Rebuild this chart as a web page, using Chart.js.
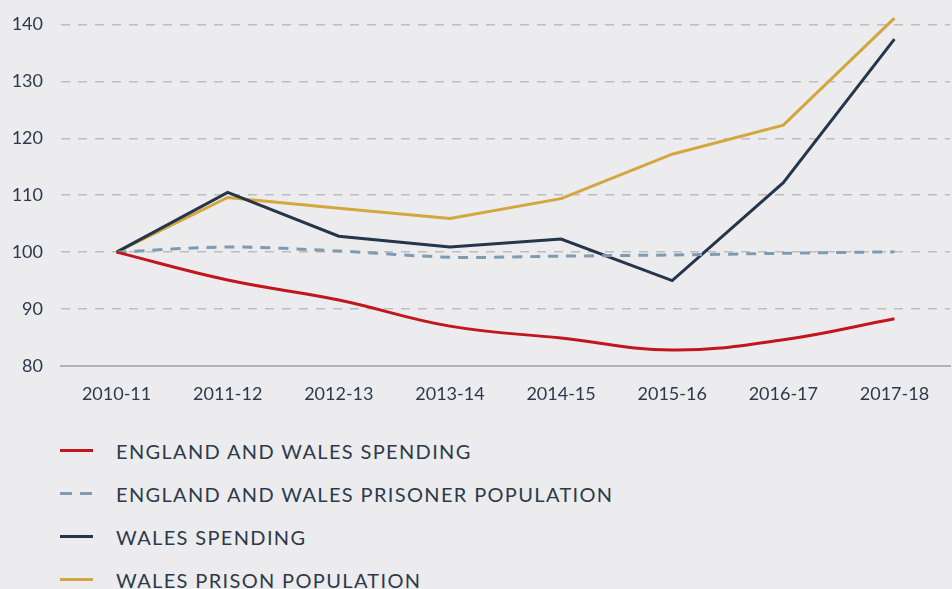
<!DOCTYPE html>
<html>
<head>
<meta charset="utf-8">
<script src="https://cdn.jsdelivr.net/npm/chart.js@4"></script>
<style>
  html, body { margin: 0; padding: 0; background: #ececee; overflow: hidden; }
  #wrap { position: relative; width: 952px; height: 589px; }
  #box { position: absolute; left: 0; top: 0; width: 952px; height: 414px; }
  #legend { position: absolute; left: 60px; top: 429px; font-family: Lato, sans-serif;
            font-size: 20px; letter-spacing: 1.35px; color: #2c3a4b; }
  .item { display: flex; align-items: center; height: 43px; }
  .swatch { width: 33px; height: 3px; margin-right: 23px; }
</style>
</head>
<body>
<div id="wrap">
  <div id="box"><canvas id="chart"></canvas></div>
  <div id="legend"></div>
</div>
<script>
const years = ['2010-11', '2011-12', '2012-13', '2013-14', '2014-15', '2015-16', '2016-17', '2017-18'];
const ewSpending = [100, 95.1, 91.6, 87.0, 84.9, 82.8, 84.6, 88.3];
const ewPrisoners = [100, 100.9, 100.2, 99.1, 99.3, 99.5, 99.8, 100.05];
const walesSpending = [100, 110.5, 102.8, 100.9, 102.3, 95.0, 112.2, 137.4];
const walesPrisoners = [100, 109.6, 107.7, 105.9, 109.4, 117.2, 122.3, 141.1];

const textColor = '#2c3a4b';

document.addEventListener('DOMContentLoaded', function () {
  const ctx = document.getElementById('chart').getContext('2d');
  const chart = new Chart(ctx, {
    type: 'line',
    data: {
      labels: years,
      datasets: [{
        label: 'ENGLAND AND WALES SPENDING',
        data: ewSpending,
        borderColor: '#c1171c',
        borderWidth: 3,
        tension: 0.4
      }, {
        label: 'ENGLAND AND WALES PRISONER POPULATION',
        data: ewPrisoners,
        borderColor: '#7f9bb1',
        borderWidth: 3,
        borderDash: [10, 8],
        tension: 0.3
      }, {
        label: 'WALES SPENDING',
        data: walesSpending,
        borderColor: '#25364a',
        borderWidth: 3,
        tension: 0
      }, {
        label: 'WALES PRISON POPULATION',
        data: walesPrisoners,
        borderColor: '#d4a63e',
        borderWidth: 3,
        tension: 0
      }]
    },
    options: {
      responsive: true,
      maintainAspectRatio: false,
      animation: false,
      layout: { padding: { top: 13, right: 2, left: 0, bottom: 0 } },
      elements: { point: { radius: 0, hoverRadius: 0 } },
      plugins: {
        legend: { display: false },
        tooltip: { enabled: false }
      },
      scales: {
        x: {
          offset: true,
          grid: { display: false, drawTicks: false },
          border: { display: true, color: '#b3b3b5', width: 2 },
          ticks: {
            color: textColor,
            padding: 17,
            maxRotation: 0,
            font: { family: 'Lato', size: 18 }
          },
          afterFit: function (scale) { scale.height = 48; }
        },
        y: {
          min: 80,
          max: 142,
          grid: { color: '#bdbdbf', lineWidth: 1.5, drawTicks: false },
          border: { display: false, dash: [9, 8] },
          ticks: {
            stepSize: 10,
            includeBounds: false,
            color: textColor,
            padding: 18,
            font: { family: 'Lato', size: 18 }
          },
          afterFit: function (scale) {
            scale.width = 61;
            scale.paddingTop = 0;
            scale.paddingBottom = 0;
          }
        }
      }
    }
  });

  // legend built from the chart's datasets, one item per row
  const legend = document.getElementById('legend');
  chart.data.datasets.forEach(function (ds) {
    const item = document.createElement('div');
    item.className = 'item';
    const sw = document.createElement('span');
    sw.className = 'swatch';
    if (ds.borderDash) {
      sw.style.background = 'repeating-linear-gradient(90deg, ' + ds.borderColor +
        ' 0 12px, transparent 12px 20px)';
    } else {
      sw.style.background = ds.borderColor;
    }
    const txt = document.createElement('span');
    txt.textContent = ds.label;
    item.appendChild(sw);
    item.appendChild(txt);
    legend.appendChild(item);
  });
});
</script>
</body>
</html>
